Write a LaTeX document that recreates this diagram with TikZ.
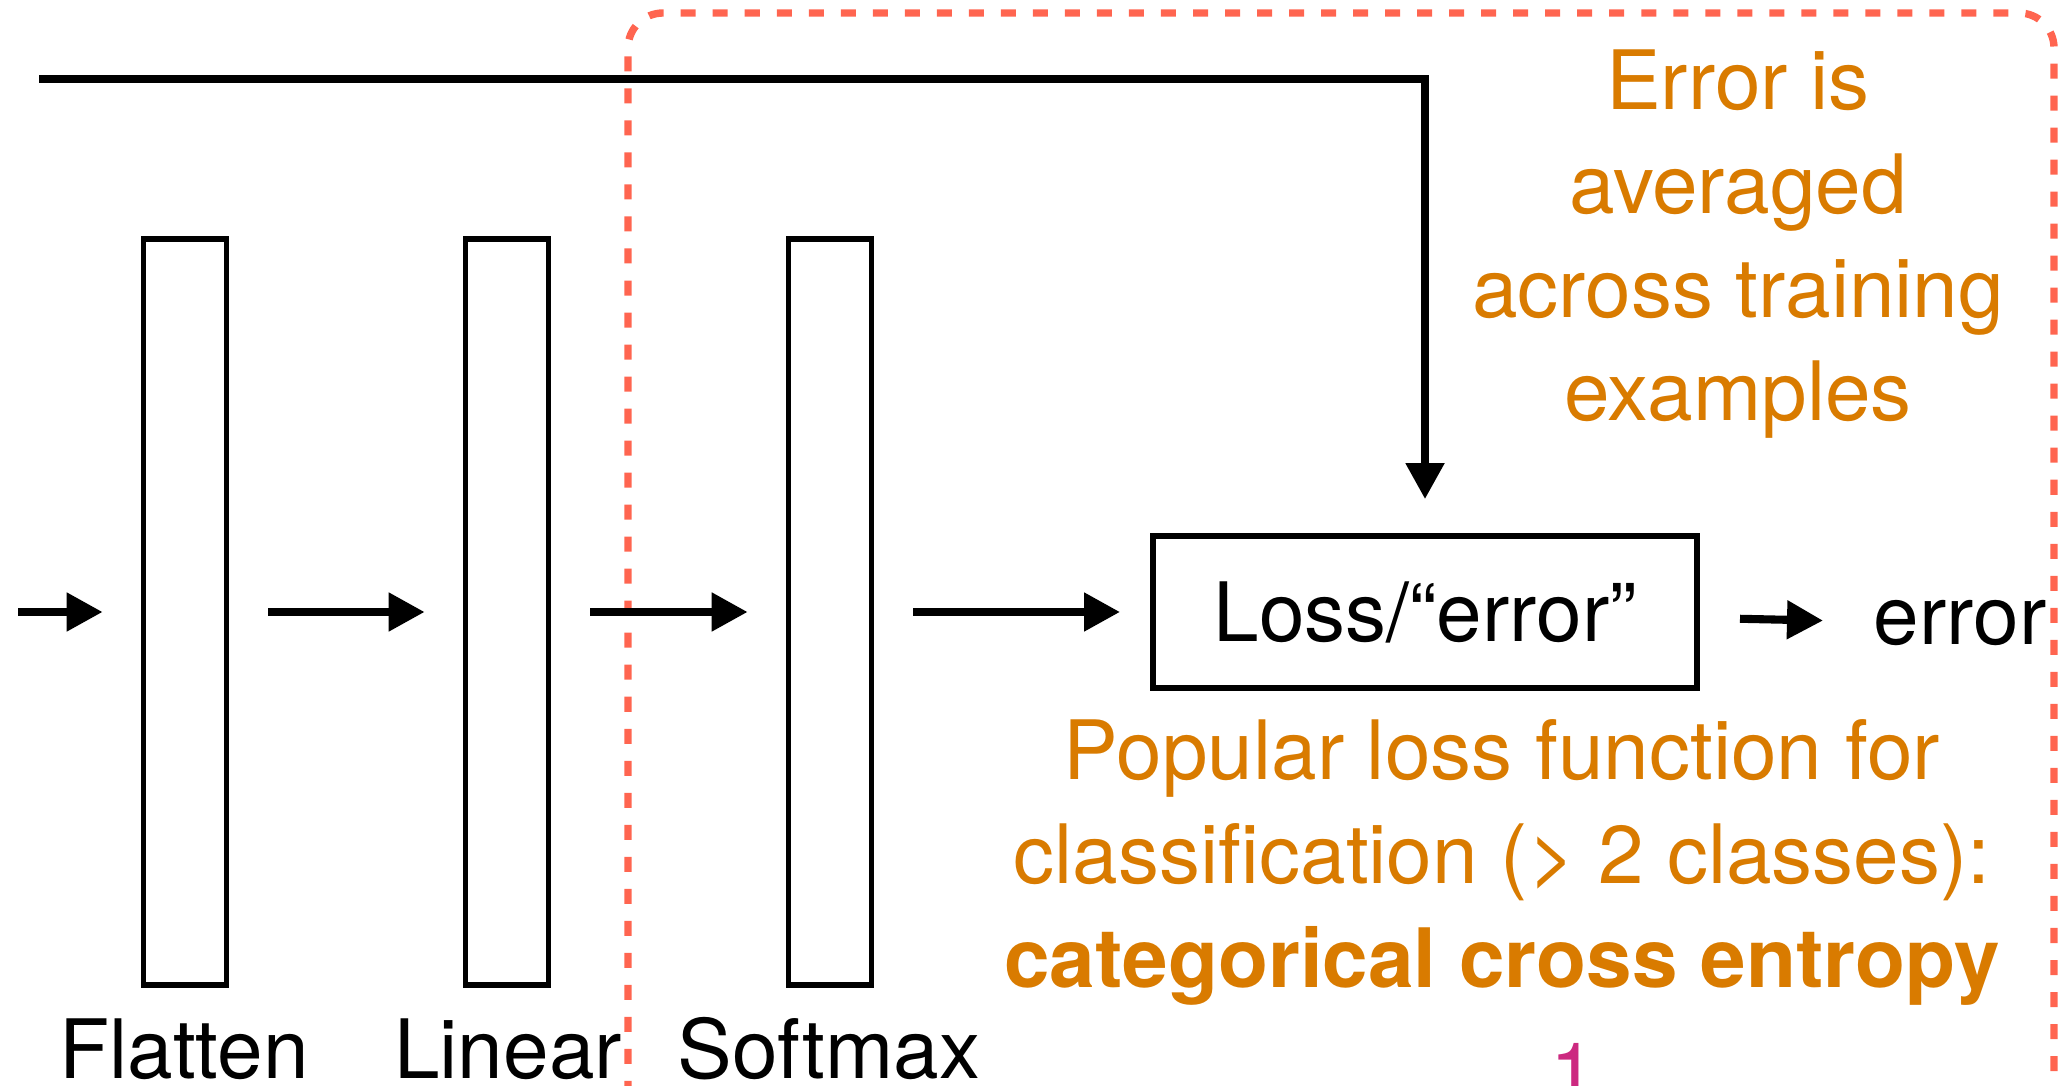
\documentclass[tikz,border=0pt]{standalone}
\usepackage{fontspec}
\setmainfont{TeX Gyre Heros}
\usetikzlibrary{arrows.meta}
\definecolor{noteorange}{RGB}{217,123,0}
\definecolor{regionred}{RGB}{255,101,80}
\definecolor{numpink}{RGB}{204,41,128}
\tikzset{
  layerbox/.style={draw, line width=1.6pt, minimum width=0.83cm, minimum height=7.45cm, inner sep=0pt},
  flow/.style={line width=2.3pt, -{Triangle[length=0.36cm,width=0.37cm]}},
  txt/.style={font=\fontsize{23.3}{29.5}\selectfont, inner sep=0pt},
  note/.style={txt, text=noteorange, align=center}
}

\begin{document}
\begin{tikzpicture}[x=0.01cm, y=-0.01cm]
\useasboundingbox (0,0) rectangle (2064,1086);
\clip (0,0) rectangle (2064,1086);

% region of the loss
\draw[regionred, line width=2.1pt, dash pattern=on 0.15cm off 0.17cm, rounded corners=0.35cm] (628,1160) |- (2054,13) -- (2054,1160);

% layers
\node[layerbox] (flat) at (185,612) {};
\node[layerbox] (lin) at (507,612) {};
\node[layerbox] (soft) at (830,612) {};
\node[txt, anchor=base] (flatname) at (184,1078) {Flatten};
\node[txt, anchor=base] (linname) at (508,1078) {Linear};
\node[txt, anchor=base] (softname) at (829,1078) {Softmax};

\node[draw, line width=1.6pt, minimum width=5.44cm, minimum height=1.52cm, txt] (loss) at (1425,612) {Loss/“error”};
\node[txt, anchor=base] (err) at (1960,645) {error};

%%%Flow
\coordinate (in) at (18,612);
\coordinate (target) at (39,79);
\draw[flow, shorten >=0.38cm] (in) -- (flat);
\draw[flow, shorten <=0.39cm, shorten >=0.38cm] (flat) -- (lin);
\draw[flow, shorten <=0.39cm, shorten >=0.38cm] (lin) -- (soft);
\draw[flow, shorten <=0.39cm, shorten >=0.30cm] (soft) -- (loss);
\draw[flow, shorten <=0.40cm, shorten >=0.50cm] (loss) -- (err);
\draw[flow, shorten >=0.34cm] (target) -| (loss.north);

% notes (base = last line)
\node[note, anchor=base] (avgnote) at (1738,421) {Error is\\averaged\\across training\\examples};
\node[note, anchor=base] (cenote) at (1502,987) {Popular loss function for\\classification (\textgreater{} 2 classes):\\\textbf{categorical cross entropy}};
\node[txt, anchor=base, text=numpink] (one) at (1573,1101) {1};

\end{tikzpicture}
\end{document}
